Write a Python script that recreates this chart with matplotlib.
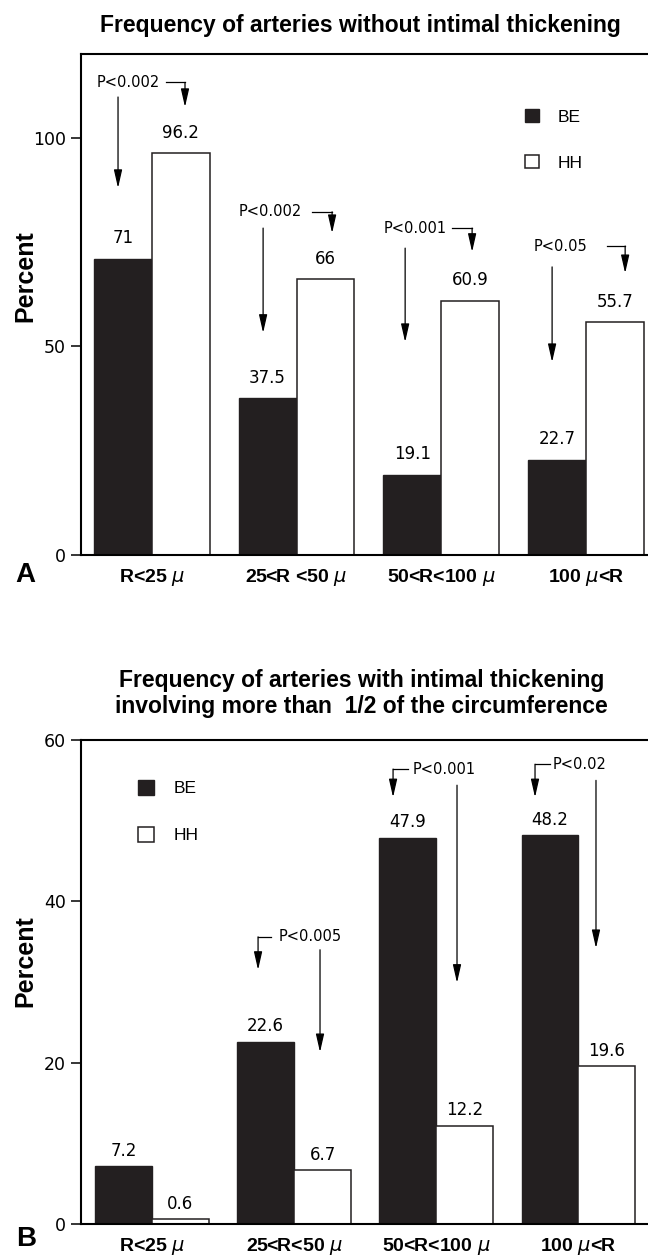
import numpy as np
import matplotlib
matplotlib.use('Agg')
import matplotlib.pyplot as plt

plt.rcParams['font.family'] = ['Liberation Sans', 'DejaVu Sans']
plt.rcParams['mathtext.fontset'] = 'dejavusans'

# data
groups = np.arange(4)
labels_a = ['R<25 $\\mu$', '25<R <50 $\\mu$', '50<R<100 $\\mu$', '100 $\\mu$<R']
labels_b = ['R<25 $\\mu$', '25<R<50 $\\mu$', '50<R<100 $\\mu$', '100 $\\mu$<R']
be_a = [71, 37.5, 19.1, 22.7]
hh_a = [96.2, 66, 60.9, 55.7]
be_a_txt = ['71', '37.5', '19.1', '22.7']
hh_a_txt = ['96.2', '66', '60.9', '55.7']
be_b = [7.2, 22.6, 47.9, 48.2]
hh_b = [0.6, 6.7, 12.2, 19.6]
be_b_txt = ['7.2', '22.6', '47.9', '48.2']
hh_b_txt = ['0.6', '6.7', '12.2', '19.6']
p_a = ['P<0.002', 'P<0.002', 'P<0.001', 'P<0.05']
p_b = ['P<0.005', 'P<0.001', 'P<0.02']

# annotation layout (data units): text x, text y, hook from x, hook to x, hook tip y,
# long arrow x, long arrow start y, long arrow tip y
ann_a = [(-0.162, 113.2, 0.098, 0.229, 107.3, -0.234, 109.7, 87.9),
         (0.817, 82.2, 1.108, 1.246, 77.1, 0.769, 78.3, 53.2),
         (1.820, 78.3, 2.076, 2.214, 72.6, 1.751, 73.5, 51.0),
         (2.826, 74.0, 3.148, 3.272, 67.5, 2.767, 69.0, 46.2)]
ann_b = [(1.112, 35.6, 0.837, 0.746, 31.5, 1.182, 34.0, 21.3),
         (2.055, 56.4, 1.801, 1.696, 52.9, 2.146, 54.4, 29.9),
         (3.008, 57.0, 2.800, 2.695, 52.9, 3.124, 55.0, 34.2)]

BLACK = '#231f20'
W = 0.4

fig = plt.figure(figsize=(6.48, 12.59), dpi=100)
ax_a = fig.add_axes([0.125, 0.5592, 0.875, 0.3979])
ax_b = fig.add_axes([0.125, 0.0278, 0.875, 0.3844])

arrow_kw = dict(arrowstyle='-|>,head_length=1.1,head_width=0.25', color='black',
                lw=0.9, shrinkA=0, shrinkB=0, mutation_scale=10)


def draw_panel(ax, be, hh, be_txt, hh_txt, xlim, ylim, yticks, cats, off, anns, ptxt):
    b1 = ax.bar(groups - W / 2, be, W, color=BLACK, edgecolor=BLACK, lw=1, label='BE')
    b2 = ax.bar(groups + W / 2, hh, W, color='white', edgecolor=BLACK, lw=1.1, label='HH')
    for x, v, t in zip(groups - W / 2, be, be_txt):
        ax.annotate(t, (x, v), xytext=(0, off), textcoords='offset points',
                    ha='center', va='center', fontsize=12, family='DejaVu Sans')
    for x, v, t in zip(groups + W / 2, hh, hh_txt):
        ax.annotate(t, (x, v), xytext=(0, off), textcoords='offset points',
                    ha='center', va='center', fontsize=12, family='DejaVu Sans')
    for (tx, ty, hx0, hx1, htip, lx, ly0, ly1), p in zip(anns, ptxt):
        ax.text(tx, ty, p, ha='center', va='center', fontsize=10.5, family='DejaVu Sans')
        ax.plot([hx0, hx1], [ty, ty], color='black', lw=0.9)
        ax.annotate('', xy=(hx1, htip), xytext=(hx1, ty), arrowprops=arrow_kw)
        ax.annotate('', xy=(lx, ly1), xytext=(lx, ly0), arrowprops=arrow_kw)
    ax.set_xlim(*xlim)
    ax.set_ylim(*ylim)
    ax.set_yticks(yticks)
    ax.set_yticklabels([str(t) for t in yticks], family='DejaVu Sans', fontsize=12.5)
    ax.set_xticks(groups)
    ax.set_xticklabels(cats, fontsize=14, fontweight='bold')
    ax.tick_params(axis='x', length=0, pad=9)
    ax.tick_params(axis='y', direction='out', length=7, width=1.1, pad=4)
    ax.spines['right'].set_visible(False)
    for s in ['top', 'left', 'bottom']:
        ax.spines[s].set_linewidth(1.5)
    return b1, b2


draw_panel(ax_a, be_a, hh_a, be_a_txt, hh_a_txt, (-0.49, 3.43), (0, 120),
           [0, 50, 100], labels_a, 15, ann_a, p_a)
ax_a.legend(loc='upper left', bbox_to_anchor=(0.783, 0.89), frameon=False, fontsize=12.5,
            handlelength=0.8, handleheight=0.8, handletextpad=1.1, labelspacing=1.75,
            borderpad=0, borderaxespad=0)

draw_panel(ax_b, be_b, hh_b, be_b_txt, hh_b_txt, (-0.5, 3.49), (0, 60),
           [0, 20, 40, 60], labels_b, 11, ann_b, p_b)
ax_b.legend(loc='upper left', bbox_to_anchor=(0.1005, 0.918), frameon=False, fontsize=12.5,
            handlelength=0.95, handleheight=0.95, handletextpad=1.1, labelspacing=1.75,
            borderpad=0, borderaxespad=0)

# titles and labels
fig.text(0.556, 1 - 32 / 1259, 'Frequency of arteries without intimal thickening',
         ha='center', va='baseline', fontsize=16.5, fontweight='bold')
fig.text(0.558, 1 - 687 / 1259, 'Frequency of arteries with intimal thickening',
         ha='center', va='baseline', fontsize=16.5, fontweight='bold')
fig.text(0.558, 1 - 713 / 1259, 'involving more than  1/2 of the circumference',
         ha='center', va='baseline', fontsize=16.5, fontweight='bold')
fig.text(25 / 648, 1 - 276 / 1259, 'Percent', rotation=90, ha='center', va='center',
         fontsize=18, fontweight='bold')
fig.text(25 / 648, 1 - 961 / 1259, 'Percent', rotation=90, ha='center', va='center',
         fontsize=18, fontweight='bold')
fig.text(25 / 648, 1 - 575 / 1259, 'A', ha='center', va='center', fontsize=20, fontweight='bold')
fig.text(26 / 648, 1 - 1239 / 1259, 'B', ha='center', va='center', fontsize=20, fontweight='bold')

fig.savefig('out.png', dpi=100)
